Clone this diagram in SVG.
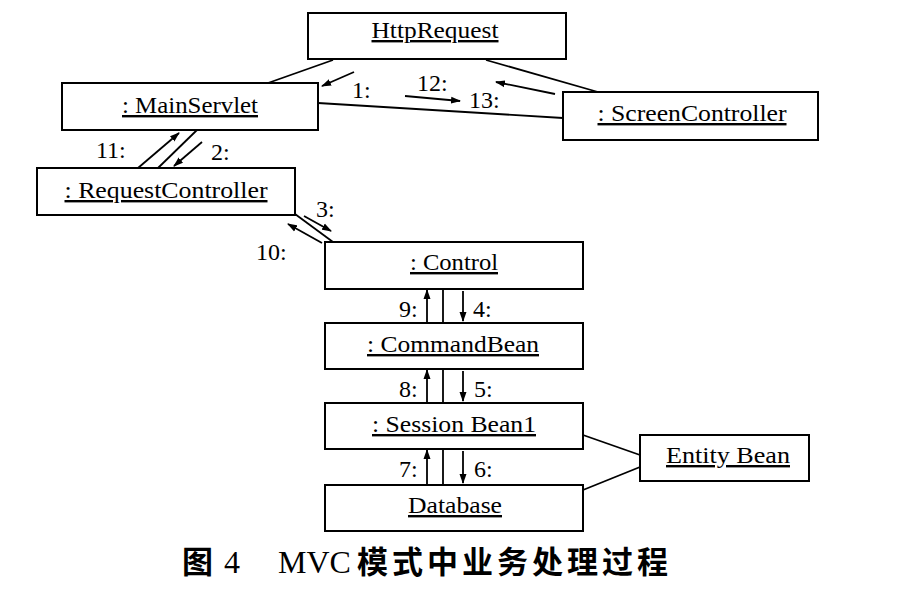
<svg xmlns="http://www.w3.org/2000/svg" width="906" height="593" viewBox="0 0 906 593">
<style>
.box{fill:#fff;stroke:#000;stroke-width:2}
.t{font-family:"Liberation Serif","Times New Roman",serif;font-size:24px;fill:#000;text-anchor:middle;text-decoration:underline}
.lb{font-family:"Liberation Serif","Times New Roman",serif;font-size:24px;fill:#000}
.c{stroke:#000;stroke-width:1.8;fill:none}
.a{stroke:#000;stroke-width:1.8;fill:none;marker-end:url(#ah)}
.cap{font-family:"Liberation Serif","Noto Sans CJK SC",serif;font-size:32px;fill:#000}
.capz{font-family:"Noto Sans CJK SC",sans-serif;font-size:31px;font-weight:700;fill:#000}
</style>
<defs>
<marker id="ah" markerWidth="10" markerHeight="8" refX="9" refY="4" orient="auto" markerUnits="userSpaceOnUse">
<path d="M0,0.5 L10,4 L0,7.5 Z" fill="#000"/>
</marker>
</defs>
<rect width="906" height="593" fill="#fff"/>
<g id="connectors">
<line class="c" x1="333" y1="60" x2="268" y2="83"/>
<line class="c" x1="486" y1="60" x2="598" y2="92"/>
<line class="c" x1="318" y1="103" x2="563" y2="118"/>
<line class="c" x1="158" y1="168" x2="197" y2="130"/>
<line class="c" x1="295" y1="214" x2="333" y2="242"/>
<line class="c" x1="443" y1="289" x2="443" y2="323"/>
<line class="c" x1="443" y1="369" x2="443" y2="403"/>
<line class="c" x1="443" y1="449" x2="443" y2="485"/>
<line class="c" x1="583" y1="435" x2="640" y2="455"/>
<line class="c" x1="583" y1="490" x2="640" y2="467"/>
<line class="a" x1="354" y1="72" x2="322" y2="86"/>
<line class="a" x1="405" y1="96" x2="460" y2="101"/>
<line class="a" x1="555" y1="94" x2="496" y2="82"/>
<line class="a" x1="138" y1="168" x2="179" y2="133"/>
<line class="a" x1="202" y1="142" x2="174" y2="166"/>
<line class="a" x1="304" y1="216" x2="331" y2="231"/>
<line class="a" x1="322" y1="243" x2="288" y2="224"/>
<line class="a" x1="427" y1="323" x2="427" y2="290"/>
<line class="a" x1="463" y1="291" x2="463" y2="321"/>
<line class="a" x1="427" y1="403" x2="427" y2="370"/>
<line class="a" x1="463" y1="371" x2="463" y2="401"/>
<line class="a" x1="427" y1="485" x2="427" y2="450"/>
<line class="a" x1="463" y1="451" x2="463" y2="483"/>
</g>
<g id="labels">
<text class="lb" x="352" y="98">1:</text>
<text class="lb" x="417" y="91">12:</text>
<text class="lb" x="469" y="108">13:</text>
<text class="lb" x="96" y="158">11:</text>
<text class="lb" x="211" y="160">2:</text>
<text class="lb" x="316" y="217">3:</text>
<text class="lb" x="256" y="260">10:</text>
<text class="lb" x="399" y="317">9:</text>
<text class="lb" x="473" y="317">4:</text>
<text class="lb" x="399" y="397">8:</text>
<text class="lb" x="474" y="397">5:</text>
<text class="lb" x="399" y="477">7:</text>
<text class="lb" x="474" y="477">6:</text>
</g>
<g id="n-httprequest">
<rect class="box" x="308" y="13" width="258" height="46"/>
<text class="t" x="435" y="38" textLength="127" lengthAdjust="spacingAndGlyphs">HttpRequest</text>
</g>
<g id="n-mainservlet">
<rect class="box" x="62" y="83" width="256" height="47"/>
<text class="t" x="190" y="113" textLength="136" lengthAdjust="spacingAndGlyphs">: MainServlet</text>
</g>
<g id="n-screencontroller">
<rect class="box" x="563" y="92" width="255" height="48"/>
<text class="t" x="692" y="121" textLength="189" lengthAdjust="spacingAndGlyphs">: ScreenController</text>
</g>
<g id="n-requestcontroller">
<rect class="box" x="37" y="168" width="258" height="47"/>
<text class="t" x="166" y="198" textLength="203" lengthAdjust="spacingAndGlyphs">: RequestController</text>
</g>
<g id="n-control">
<rect class="box" x="325" y="242" width="258" height="47"/>
<text class="t" x="454" y="270" textLength="88" lengthAdjust="spacingAndGlyphs">: Control</text>
</g>
<g id="n-commandbean">
<rect class="box" x="325" y="323" width="258" height="46"/>
<text class="t" x="453" y="352" textLength="172" lengthAdjust="spacingAndGlyphs">: CommandBean</text>
</g>
<g id="n-sessionbean">
<rect class="box" x="325" y="403" width="258" height="46"/>
<text class="t" x="454" y="432" textLength="164" lengthAdjust="spacingAndGlyphs">: Session Bean1</text>
</g>
<g id="n-database">
<rect class="box" x="325" y="485" width="258" height="46"/>
<text class="t" x="455" y="513" textLength="94" lengthAdjust="spacingAndGlyphs">Database</text>
</g>
<g id="n-entitybean">
<rect class="box" x="640" y="435" width="169" height="46"/>
<text class="t" x="728" y="463" textLength="124" lengthAdjust="spacingAndGlyphs">Entity Bean</text>
</g>
<g id="caption">
<text class="capz" x="182" y="573">图</text>
<text class="cap" x="224" y="573">4</text>
<text class="cap" x="278" y="573">MVC</text>
<text class="capz" x="357" y="573" letter-spacing="4">模式中业务处理过程</text>
</g>
</svg>
